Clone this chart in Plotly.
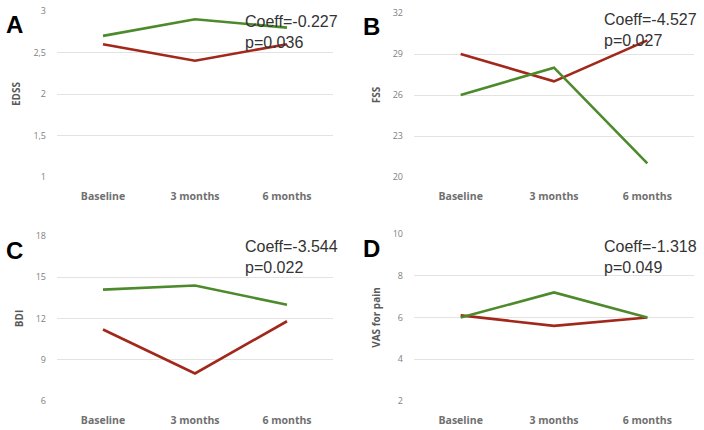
import plotly.graph_objects as go

# Time points
timepoints = ["Baseline", "3 months", "6 months"]

# Panel A - EDSS
edss_green = [2.7, 2.9, 2.8]
edss_red = [2.6, 2.4, 2.6]
# Panel B - FSS
fss_green = [26, 28, 21]
fss_red = [29, 27, 30]
# Panel C - BDI
bdi_green = [14.1, 14.4, 13.0]
bdi_red = [11.2, 8.0, 11.8]
# Panel D - VAS for pain
vas_green = [6.0, 7.2, 6.0]
vas_red = [6.1, 5.6, 6.0]

panel_letters = ["A", "B", "C", "D"]
y_titles = ["EDSS", "FSS", "BDI", "VAS for pain"]
coeff_texts = ["Coeff=-0.227<br>p=0.036", "Coeff=-4.527<br>p=0.027",
               "Coeff=-3.544<br>p=0.022", "Coeff=-1.318<br>p=0.049"]
y_ticks = [[1, 1.5, 2, 2.5, 3], [20, 23, 26, 29, 32], [6, 9, 12, 15, 18], [2, 4, 6, 8, 10]]

GREEN = "#4d8a2c"
RED = "#a1281a"
GRID = "#e3e3e3"
TICK = "#7f7f7f"

panels = [(edss_green, edss_red), (fss_green, fss_red), (bdi_green, bdi_red), (vas_green, vas_red)]

W, H = 704, 430
x_doms = [(57, 333), (414, 694), (57, 333), (414, 694)]
y_doms = [(11, 177), (13, 177), (236, 401), (234, 401)]
# top-left of coefficient text boxes (pixels)
coeff_pos = [(243, 11), (602, 9), (243, 236), (602, 236)]

fig = go.Figure()
layout = {}
annotations = []

for i, (green, red) in enumerate(panels):
    n = i + 1
    xa = "x" if n == 1 else f"x{n}"
    ya = "y" if n == 1 else f"y{n}"
    for vals, col in ((red, RED), (green, GREEN)):
        fig.add_trace(go.Scatter(x=timepoints, y=vals, mode="lines",
                                 line=dict(color=col, width=2.6),
                                 xaxis=xa, yaxis=ya, showlegend=False))
    x0, x1 = x_doms[i]
    y0, y1 = y_doms[i]
    layout[f"xaxis{n}"] = dict(domain=[x0 / W, x1 / W], type="category",
                               range=[-0.5, 2.5], showgrid=False, zeroline=False,
                               showline=False, ticks="", anchor=ya, automargin=False,
                               ticklabelstandoff=11,
                               tickfont=dict(family="Open Sans", size=10.5, color="#6f6f6f",
                                             weight="bold"))
    ticks = y_ticks[i]
    layout[f"yaxis{n}"] = dict(domain=[1 - y1 / H, 1 - y0 / H], range=[ticks[0], ticks[-1]],
                               tickvals=ticks, showgrid=True, gridcolor=GRID, gridwidth=1,
                               zeroline=False, showline=False, anchor=xa, automargin=False,
                               ticklabelstandoff=10,
                               tickfont=dict(family="Open Sans", size=9, color=TICK),
                               title=dict(text=y_titles[i], standoff=10,
                                          font=dict(family="Open Sans", size=10,
                                                    color="#595959", weight="bold")))
    annotations.append(dict(text=panel_letters[i], xref="paper", yref="paper",
                            x=4 / W, y=1 - (y0 + 14) / H,
                            xanchor="left", yanchor="middle", showarrow=False,
                            font=dict(family="Liberation Sans", size=24, color="black",
                                      weight="bold")))
    if i % 2 == 1:
        annotations[-1]["x"] = (x0 - 53) / W
    cx, cy = coeff_pos[i]
    annotations.append(dict(text=coeff_texts[i], xref="paper", yref="paper",
                            x=cx / W, y=1 - cy / H,
                            xanchor="left", yanchor="top", align="left", showarrow=False,
                            font=dict(family="Liberation Sans", size=16, color="#333333")))

fig.update_layout(width=W, height=H, margin=dict(l=0, r=0, t=0, b=0),
                  plot_bgcolor="white", paper_bgcolor="white",
                  separators=",.", annotations=annotations, **layout)

# drop the default page margin so the figure sits at the window's corner
fig.write_html("out.html", config={"displayModeBar": False},
               post_script="document.body.style.margin='0';")
